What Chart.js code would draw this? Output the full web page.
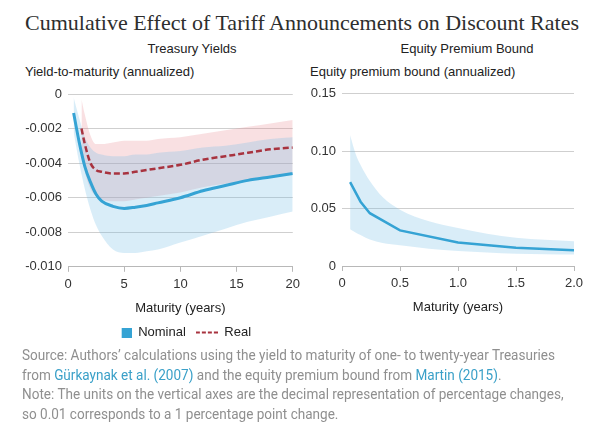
<!DOCTYPE html>
<html><head><meta charset="utf-8">
<script src="https://cdn.jsdelivr.net/npm/chart.js@4.4.1/dist/chart.umd.min.js"></script>
<style>
html,body{margin:0;padding:0;background:#fff;}
body{width:600px;height:435px;position:relative;overflow:hidden;font-family:"Liberation Sans",Arial,sans-serif;}
.abs{position:absolute;white-space:nowrap;}
#title{left:25px;top:9.6px;font-family:"Liberation Serif",serif;font-size:22px;line-height:26px;color:#2e2e2e;transform-origin:0 0;}
.head{font-size:13px;line-height:16px;color:#222;}
.ctr{text-align:center;width:200px;}
#src{left:22px;top:346px;font-family:Roboto,sans-serif;font-size:15px;line-height:19.6px;color:#8f8f8f;transform-origin:0 0;}
#src div{white-space:nowrap;}
#src a{color:#3aa0c8;text-decoration:none;}
.cv{position:absolute;}
</style></head>
<body>
<div id="title" class="abs">Cumulative Effect of Tariff Announcements on Discount Rates</div>
<div class="abs head ctr" style="left:92px;top:41px;">Treasury Yields</div>
<div class="abs head ctr" style="left:367px;top:41px;">Equity Premium Bound</div>
<div class="abs head" style="left:25px;top:64px;">Yield-to-maturity (annualized)</div>
<div class="abs head" style="left:310px;top:64px;">Equity premium bound (annualized)</div>
<div class="cv" style="left:0;top:80px;"><canvas id="c1" width="305" height="269"></canvas></div>
<div class="cv" style="left:300px;top:80px;"><canvas id="c2" width="300" height="269"></canvas></div>
<div id="src" class="abs">
<div id="srcl1">Source: Authors’ calculations using the yield to maturity of one- to twenty-year Treasuries</div>
<div>from <a>Gürkaynak et al. (2007)</a> and the equity premium bound from <a>Martin (2015)</a>.</div>
<div>Note: The units on the vertical axes are the decimal representation of percentage changes,</div>
<div>so 0.01 corresponds to a 1 percentage point change.</div>
</div>
<script>
// ---- Data ----
const legendLabels = ['Nominal', 'Real'];

const nomMat   = [0.5, 1, 1.5, 2, 2.5, 3, 4, 5, 6, 7, 8, 10, 12, 14, 16, 18, 20];
const nominal  = [-0.0011, -0.0028, -0.0042, -0.0051, -0.0058, -0.0062, -0.0065, -0.00662, -0.00655, -0.00645, -0.0063, -0.0060, -0.0056, -0.0053, -0.0050, -0.0048, -0.0046];
const nomUpper = [-0.0002, -0.0014, -0.0025, -0.0031, -0.0034, -0.0035, -0.0036, -0.0036, -0.0035, -0.0035, -0.0034, -0.0033, -0.0031, -0.0030, -0.0028, -0.0026, -0.0025];
const nomLower = [-0.0022, -0.0040, -0.0055, -0.0067, -0.0076, -0.0082, -0.0090, -0.0092, -0.0092, -0.0091, -0.0090, -0.0086, -0.0082, -0.0078, -0.0074, -0.0071, -0.0068];

const realMat   = [1.2, 1.5, 2, 2.5, 3, 4, 5, 6, 7, 8, 10, 12, 14, 16, 18, 20];
const real      = [-0.0020, -0.0029, -0.0040, -0.0044, -0.0045, -0.0046, -0.0046, -0.0045, -0.0044, -0.0043, -0.0041, -0.0038, -0.0036, -0.0034, -0.0032, -0.0031];
const realUpper = [-0.0003, -0.0012, -0.0024, -0.0029, -0.0029, -0.0028, -0.0027, -0.0027, -0.0027, -0.0026, -0.0025, -0.0023, -0.0021, -0.0019, -0.0017, -0.0015];
const realLower = [-0.0035, -0.0045, -0.0055, -0.0059, -0.0061, -0.0062, -0.0062, -0.0061, -0.0060, -0.0059, -0.0057, -0.0054, -0.0052, -0.0050, -0.0048, -0.0046];

const epMat   = [0.07, 0.16, 0.24, 0.5, 1.0, 1.5, 2.0];
const epBound = [0.073, 0.056, 0.046, 0.031, 0.0205, 0.016, 0.0138];
const epBandMat = [0.07, 0.12, 0.16, 0.24, 0.35, 0.5, 0.75, 1.0, 1.25, 1.5, 1.75, 2.0];
const epUpper = [0.114, 0.097, 0.088, 0.074, 0.060, 0.049, 0.039, 0.033, 0.028, 0.0245, 0.0228, 0.0216];
const epLower = [0.032, 0.029, 0.027, 0.023, 0.020, 0.018, 0.015, 0.013, 0.0118, 0.0107, 0.0103, 0.0100];

const leftYTickValues  = [-0.010, -0.008, -0.006, -0.004, -0.002, 0];
const leftYTickLabels  = ['-0.010', '-0.008', '-0.006', '-0.004', '-0.002', '0'];
const leftXTickValues  = [0, 5, 10, 15, 20];
const leftXTickLabels  = ['0', '5', '10', '15', '20'];
const rightYTickValues = [0, 0.05, 0.10, 0.15];
const rightYTickLabels = ['0', '0.05', '0.10', '0.15'];
const rightXTickValues = [0, 0.5, 1.0, 1.5, 2.0];
const rightXTickLabels = ['0', '0.5', '1.0', '1.5', '2.0'];

// ---- Styling ----
const BLUE = '#35a3d4';
const RED = '#a8333f';
const BLUE_BAND = 'rgba(120,190,230,0.28)';
const PINK_BAND = 'rgba(232,130,140,0.25)';
const FONT = '"Liberation Sans", Arial, sans-serif';
const pts = (xs, ys) => ys.map((y, i) => ({x: xs[i], y}));

Chart.defaults.font.family = FONT;
Chart.defaults.font.size = 13;
Chart.defaults.color = '#333';

function fixedTicks(values) {
  return function(scale) { scale.ticks = values.map(v => ({value: v})); };
}
function xScale(min, max, values, labels) {
  return {
    type: 'linear', min, max,
    afterBuildTicks: fixedTicks(values),
    ticks: {padding: 5, color: '#333', font: {size: 13}, maxRotation: 0,
            callback: (v, i) => labels[i]},
    grid: {drawOnChartArea: false, drawTicks: true, tickLength: 5, color: '#b8b8b8'},
    border: {display: true, color: '#b8b8b8', width: 1},
    title: {display: true, text: 'Maturity (years)', color: '#222', font: {size: 13}, padding: {top: 3, bottom: 0}}
  };
}
function yScale(min, max, values, labels, width) {
  return {
    type: 'linear', min, max,
    afterBuildTicks: fixedTicks(values),
    afterFit: s => { s.width = width; },
    ticks: {padding: 6, color: '#333', font: {size: 13}, callback: (v, i) => labels[i]},
    grid: {drawTicks: false, color: '#cfcfcf', lineWidth: 1},
    border: {display: false}
  };
}

// legend icons
const nomIcon = document.createElement('canvas');
nomIcon.width = 22; nomIcon.height = 10;
{ const g = nomIcon.getContext('2d'); g.fillStyle = BLUE; g.fillRect(12, 0, 10, 10); }
const realIcon = document.createElement('canvas');
realIcon.width = 22; realIcon.height = 3;
{ const g = realIcon.getContext('2d'); g.strokeStyle = RED; g.lineWidth = 2; g.setLineDash([4, 2]);
  g.beginPath(); g.moveTo(0, 1.5); g.lineTo(22, 1.5); g.stroke(); }
const legendIcons = [nomIcon, realIcon];

new Chart(document.getElementById('c1'), {
  type: 'line',
  data: {
    datasets: [
      {label: legendLabels[0], data: pts(nomMat, nominal), borderColor: BLUE, borderWidth: 3, pointRadius: 0, fill: false, cubicInterpolationMode: 'monotone', order: 0},
      {label: legendLabels[1], data: pts(realMat, real), borderColor: RED, borderWidth: 2.5, borderDash: [6, 3], pointRadius: 0, fill: false, cubicInterpolationMode: 'monotone', order: 1},
      {label: 'realU', data: pts(realMat, realUpper), borderWidth: 0, pointRadius: 0, backgroundColor: PINK_BAND, fill: '+1', cubicInterpolationMode: 'monotone', order: 3},
      {label: 'realL', data: pts(realMat, realLower), borderWidth: 0, pointRadius: 0, fill: false, cubicInterpolationMode: 'monotone', order: 3},
      {label: 'nomU', data: pts(nomMat, nomUpper), borderWidth: 0, pointRadius: 0, backgroundColor: BLUE_BAND, fill: '+1', cubicInterpolationMode: 'monotone', order: 2},
      {label: 'nomL', data: pts(nomMat, nomLower), borderWidth: 0, pointRadius: 0, fill: false, cubicInterpolationMode: 'monotone', order: 2}
    ]
  },
  options: {
    responsive: false, animation: false, devicePixelRatio: 1,
    layout: {padding: {left: 0, right: 7, top: 14, bottom: 0}},
    scales: {
      x: xScale(0, 20, leftXTickValues, leftXTickLabels),
      y: yScale(-0.010, 0, leftYTickValues, leftYTickLabels, 68)
    },
    plugins: {
      tooltip: {enabled: false},
      legend: {
        display: true, position: 'bottom', fullSize: false,
        labels: {
          usePointStyle: true, pointStyleWidth: 22, boxHeight: 13, padding: 10,
          color: '#222', font: {size: 13},
          generateLabels: () => legendLabels.map((t, i) => ({
            text: t, pointStyle: legendIcons[i], fillStyle: 'rgba(0,0,0,0)', strokeStyle: 'rgba(0,0,0,0)',
            lineWidth: 0, hidden: false, datasetIndex: i, fontColor: '#222'
          }))
        }
      }
    }
  }
});

new Chart(document.getElementById('c2'), {
  type: 'line',
  data: {
    datasets: [
      {label: 'Equity premium bound', data: pts(epMat, epBound), borderColor: BLUE, borderWidth: 2.5, pointRadius: 0, fill: false, order: 0},
      {label: 'epU', data: pts(epBandMat, epUpper), borderWidth: 0, pointRadius: 0, backgroundColor: BLUE_BAND, fill: '+1', cubicInterpolationMode: 'monotone', order: 2},
      {label: 'epL', data: pts(epBandMat, epLower), borderWidth: 0, pointRadius: 0, fill: false, cubicInterpolationMode: 'monotone', order: 2}
    ]
  },
  options: {
    responsive: false, animation: false, devicePixelRatio: 1,
    layout: {padding: {left: 0, right: 26, top: 13.3, bottom: 33.8}},
    scales: {
      x: xScale(0, 2, rightXTickValues, rightXTickLabels),
      y: yScale(0, 0.15, rightYTickValues, rightYTickLabels, 42)
    },
    plugins: {tooltip: {enabled: false}, legend: {display: false}}
  }
});

// fit title and note widths to the reference
(function() {
  const t = document.getElementById('title');
  const w = t.getBoundingClientRect().width;
  t.style.transform = 'scaleX(' + (554 / w) + ')';
  const l1 = document.getElementById('srcl1');
  const r = document.createRange(); r.selectNodeContents(l1);
  const w2 = r.getBoundingClientRect().width;
  document.getElementById('src').style.transform = 'scaleX(' + (533 / w2) + ')';
})();
</script>
</body></html>
